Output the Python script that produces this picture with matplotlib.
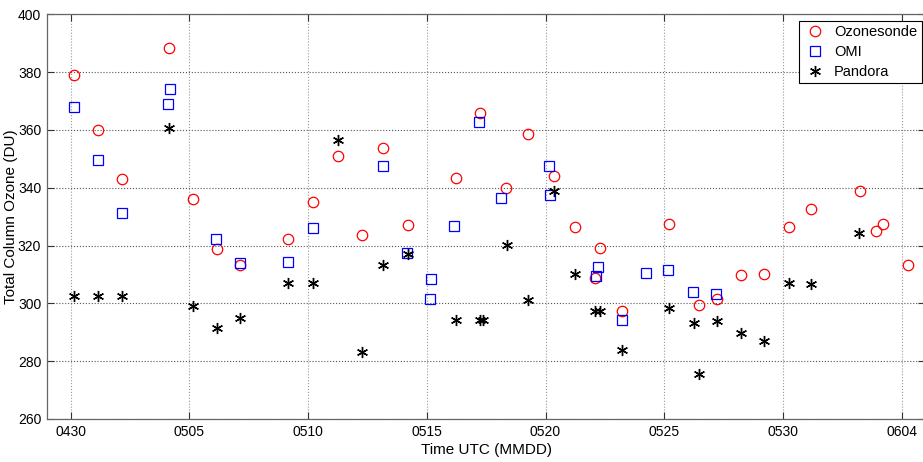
import numpy as np
import matplotlib
matplotlib.use("Agg")
import matplotlib.pyplot as plt

plt.rcParams['font.family'] = ['Liberation Sans', 'DejaVu Sans']

# time in days after 0430 00 UTC
sonde_t = [0.13, 1.17, 2.17, 4.16, 5.16, 6.15, 7.14, 9.17, 10.22, 11.28, 12.29,
           13.17, 14.22, 16.22, 17.23, 18.34, 19.25, 20.34, 21.23, 22.07, 22.30,
           23.21, 25.20, 26.48, 27.23, 28.22, 29.20, 30.27, 31.18, 33.24, 33.92,
           34.22, 35.25]
sonde_o3 = [379.1, 360.0, 343.0, 388.2, 336.1, 318.7, 313.2, 322.2, 335.0, 351.0,
            323.5, 353.6, 327.2, 343.4, 365.9, 340.0, 358.5, 344.0, 326.4, 308.6,
            319.3, 297.4, 327.4, 299.4, 301.5, 309.8, 310.1, 326.3, 332.6, 338.9,
            325.1, 327.4, 313.2]

omi_t = [0.13, 1.17, 2.17, 4.12, 4.18, 6.13, 7.14, 9.17, 10.20, 13.15, 14.15,
         15.14, 15.18, 16.16, 17.19, 18.14, 20.15, 20.20, 22.11, 22.22, 23.21,
         24.23, 25.17, 26.20, 27.17]
omi_o3 = [368.0, 349.7, 331.4, 368.8, 374.1, 322.1, 314.0, 314.4, 325.9, 347.6,
          317.5, 301.4, 308.3, 326.7, 362.7, 336.4, 347.5, 337.4, 309.4, 312.6,
          294.2, 310.6, 311.5, 304.0, 303.4]

pandora_t = [0.16, 1.17, 2.17, 4.16, 5.16, 6.15, 7.14, 9.17, 10.20, 11.28, 12.29,
             13.15, 14.22, 16.23, 17.25, 17.37, 18.37, 19.25, 20.34, 21.24, 22.08,
             22.30, 23.21, 25.20, 26.25, 26.48, 27.23, 28.22, 29.20, 30.27, 31.18,
             33.21]
pandora_o3 = [302.5, 302.5, 302.5, 360.7, 299.1, 291.4, 295.0, 307.1, 307.1, 356.4,
              283.0, 313.2, 317.0, 294.2, 294.4, 294.4, 320.1, 301.1, 338.9, 310.1,
              297.4, 297.4, 283.8, 298.4, 293.3, 275.7, 293.8, 289.8, 287.0, 306.9,
              306.6, 324.4]

tick_pos = [0, 5, 10, 15, 20, 25, 30, 35]
tick_labels = ['0430', '0505', '0510', '0515', '0520', '0525', '0530', '0604']

fig = plt.figure(figsize=(9.23, 4.62), dpi=100)
ax = fig.add_axes([0.0507, 0.0931, 0.952, 0.876])

ax.plot(sonde_t, sonde_o3, 'o', mfc='none', mec='#ff0000', ms=7.5, mew=0.9,
        label='Ozonesonde')
ax.plot(omi_t, omi_o3, 's', mfc='none', mec='#0000ff', ms=7.2, mew=0.9,
        label='OMI')
ax.plot(pandora_t, pandora_o3, marker=(6, 2, 0), ls='none', color='black',
        ms=8, mew=1.0, label='Pandora')

ax.set_xlim(-1, 36)
ax.set_ylim(260, 400)
ax.set_xticks(tick_pos)
ax.set_xticklabels(tick_labels)
ax.set_yticks(np.arange(260, 401, 20))

ax.xaxis.grid(True, ls=':', color='#999999', lw=0.8)
ax.yaxis.grid(True, ls=':', color='#555555', lw=0.8)
ax.tick_params(direction='in', length=5, width=0.8, colors='#333333',
               labelcolor='black', labelsize=10, top=True, right=True, pad=4)
for s in ax.spines.values():
    s.set_color('#666666')
    s.set_linewidth(0.9)

ax.set_xlabel('Time UTC (MMDD)', fontsize=11)
ax.xaxis.set_label_coords(0.5, -0.06)
ax.set_ylabel('Total Column Ozone (DU)', fontsize=11, va='center')
ax.yaxis.set_label_coords(-0.041, 0.5)

leg = ax.legend(loc='upper right', bbox_to_anchor=(921.7 / 923 , 441.3 / 462),
                bbox_transform=fig.transFigure, fancybox=False, framealpha=1,
                edgecolor='black', fontsize=10.5, borderpad=0.3, labelspacing=0.4,
                handletextpad=0.5, handlelength=1.6, borderaxespad=0)
leg.get_frame().set_linewidth(0.8)

fig.savefig('out.png', dpi=100)
